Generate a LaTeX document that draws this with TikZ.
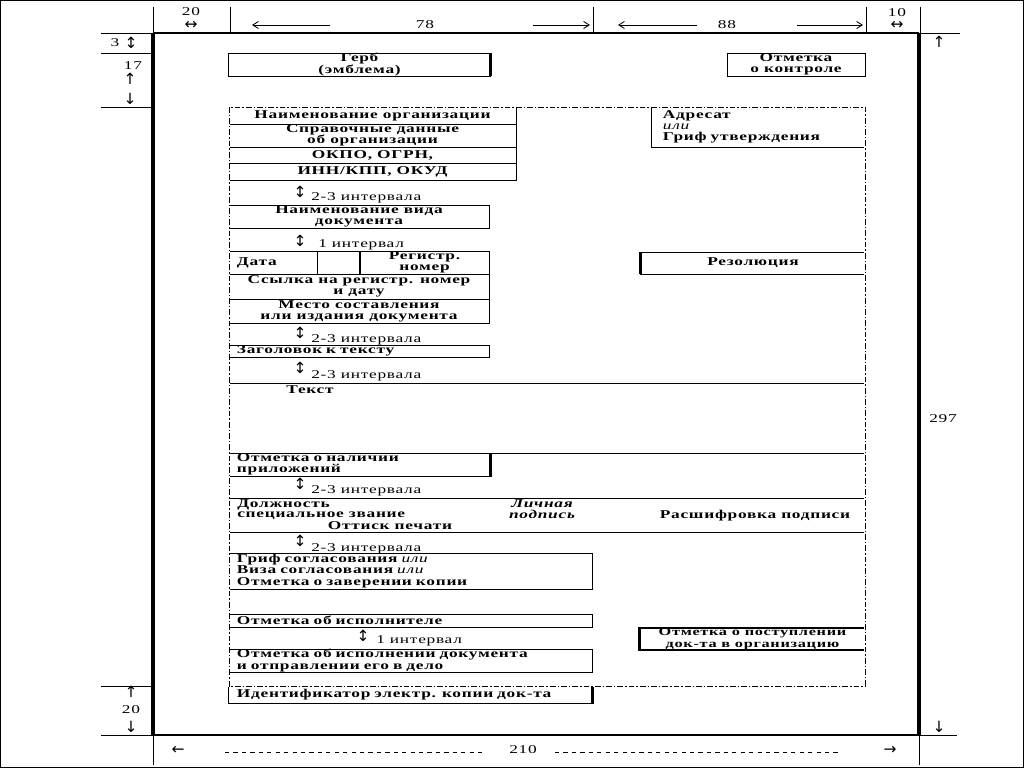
\documentclass[tikz,border=0pt]{standalone}
\usepackage{fontspec}
\setmainfont{Liberation Serif}[FakeStretch=1.45, LetterSpace=6]
\newfontfamily\symfont{DejaVu Sans}
\usepackage{tikz}
\usetikzlibrary{arrows.meta}

\begin{document}
\begin{tikzpicture}[
    x=0.025cm, y=-0.025cm,
    cell/.style={
        rectangle,
        draw=black,
        line width=0.7pt,
        inner sep=0pt,
        align=center,
        font=\bfseries\fontsize{8.5}{8}\selectfont
    },
    lcell/.style={
        cell,
        align=left,
        inner xsep=0.2cm,
        text width=#1
    },
    gaptext/.style={anchor=west, inner sep=0pt, font=\fontsize{8.5}{8}\selectfont},
    symtext/.style={inner sep=0pt, font=\symfont\fontsize{11}{11}\selectfont},
    dimtext/.style={inner sep=0pt, font=\fontsize{8.5}{9}\selectfont},
    plain/.style={inner sep=0pt, font=\bfseries\fontsize{8.5}{8}\selectfont},
    thickside/.style={line width=1.6pt},
    pageline/.style={line width=2.6pt},
    hair/.style={line width=0.5pt},
    dashframe/.style={line width=0.7pt, dash pattern=on 4pt off 1.5pt on 1pt off 1.5pt},
    arrow/.style={-{Straight Barb[length=4pt,width=5pt]}, line width=0.6pt}
]
\useasboundingbox (0,0) rectangle (1024,768);

% Outer border and sheet
\draw[line width=0.8pt] (0.5,0.5) rectangle (1023.5,767.5);
\draw[pageline] (153,33) -- (153,735);
\draw[pageline] (919,33) -- (919,735);
\draw[line width=1.4pt] (153,33) -- (919,33);
\draw[line width=1.4pt] (153,735) -- (919,735);

% Dimension lines
\draw[hair] (101,33) -- (153,33) (101,53) -- (153,53) (101,107) -- (153,107)
            (101,686) -- (153,686) (101,735) -- (153,735)
            (919,33) -- (960,33) (919,735) -- (957,735)
            (153,735) -- (153,765) (919,735) -- (919,765);
\foreach \x in {153,230,593,866,920}
    \draw[hair] (\x,7) -- (\x,33);

% Top dimensions
\node[dimtext] (w20)  at (191,12) {20};
\node[symtext] (w20a) at (191,25) {↔};
\node[dimtext] (w78)  at (425,25) {78};
\node[dimtext] (w88)  at (727,25) {88};
\node[dimtext] (w10)  at (897,13) {10};
\node[symtext] (w10a) at (897,25) {↔};
\coordinate (a78l) at (330,25);
\coordinate (e78l) at (252,25);
\coordinate (a78r) at (533,25);
\coordinate (e78r) at (590,25);
\coordinate (a88l) at (697,25);
\coordinate (e88l) at (618,25);
\coordinate (a88r) at (797,25);
\coordinate (e88r) at (863,25);
\draw[arrow] (a78l) -- (e78l);
\draw[arrow] (a78r) -- (e78r);
\draw[arrow] (a88l) -- (e88l);
\draw[arrow] (a88r) -- (e88r);

% Left and right dimensions
\node[dimtext] (h3)   at (115,43)  {3};
\node[symtext] (h3a)  at (131,43)  {↕};
\node[dimtext] (h17)  at (133,66)  {17};
\node[symtext] (h17u) at (130,79)  {↑};
\node[symtext] (h17d) at (130,99)  {↓};
\node[symtext] (h20u) at (131,692) {↑};
\node[dimtext] (h20)  at (131,710) {20};
\node[symtext] (h20d) at (131,727) {↓};
\node[symtext] (hru)  at (939,42)  {↑};
\node[dimtext] (h297) at (943,419) {297};
\node[symtext] (hrd)  at (939,727) {↓};

% Bottom dimension
\node[symtext] (w210l) at (178,750) {←};
\node[dimtext] (w210)  at (523,750) {210};
\node[symtext] (w210r) at (890,750) {→};
\coordinate (d1) at (225,752);
\coordinate (d2) at (484,752);
\coordinate (d3) at (555,752);
\coordinate (d4) at (838,752);
\draw[hair, dashed] (d1) -- (d2);
\draw[hair, dashed] (d3) -- (d4);

% Top boxes
\node[cell, minimum width=6.525cm, minimum height=0.575cm] (gerb) at (359.5,64.5) {Герб\\(эмблема)};
\node[cell, minimum width=3.45cm, minimum height=0.575cm] (control) at (796,64.5) {Отметка\\о контроле};
\draw[thickside] (gerb.north east) -- (gerb.south east);

% Left column
\node[cell, minimum width=7.175cm, minimum height=0.425cm] (org)  at (372.5,115.5) {Наименование организации};
\node[cell, minimum width=7.175cm, minimum height=0.575cm] (info) at (372.5,135.5) {Справочные данные\\об организации};
\node[cell, minimum width=7.175cm, minimum height=0.4cm]   (okpo) at (372.5,155)   {ОКПО, ОГРН,};
\node[cell, minimum width=7.175cm, minimum height=0.425cm] (inn)  at (372.5,171.5) {ИНН/КПП, ОКУД};

\node[symtext] (g1a) at (300,192) {↕};
\node[gaptext] (g1)  at (311,198) {2-3 интервала};

\node[cell, minimum width=6.5cm, minimum height=0.575cm] (kind) at (359,216.5) {Наименование вида\\документа};

\node[symtext] (g2a) at (300,241) {↕};
\node[gaptext] (g2)  at (318,245) {1 интервал};

\node[lcell=1.8cm, minimum height=0.575cm] (date)  at (273,262.5) {Дата};
\node[cell, minimum width=1.075cm, minimum height=0.575cm] (blank) at (338.5,262.5) {};
\node[cell, minimum width=3.225cm, minimum height=0.575cm] (regno) at (424.5,262.5) {Регистр.\\номер};

\node[cell, minimum width=6.5cm, minimum height=0.625cm] (link)  at (359,286.5) {Ссылка на регистр. номер\\и дату};
\node[cell, minimum width=6.5cm, minimum height=0.6cm]   (place) at (359,311)   {Место составления\\или издания документа};

\node[symtext] (g3a) at (300,333) {↕};
\node[gaptext] (g3)  at (311,340) {2-3 интервала};

\node[lcell=6.1cm, minimum height=0.3cm] (title) at (359,351) {Заголовок к тексту};

\node[symtext] (g4a) at (300,368) {↕};
\node[gaptext] (g4)  at (311,376) {2-3 интервала};

% Text area
\draw[line width=0.7pt] (229,383) -- (865,383);
\draw[line width=0.7pt] (229,453) -- (865,453);
\node[plain] (text) at (310,390) {Текст};

\node[lcell=6.125cm, minimum height=0.575cm] (appx) at (359.5,464.5) {Отметка о наличии\\приложений};
\draw[thickside] (appx.north east) -- (appx.south east);

\node[symtext] (g5a) at (300,484) {↕};
\node[gaptext] (g5)  at (311,491) {2-3 интервала};

% Signature
\draw[line width=0.7pt] (229,498) -- (865,498);
\draw[line width=0.7pt] (229,532) -- (865,532);
\node[plain, anchor=west] (post)  at (237,505) {Должность};
\node[plain, anchor=west] (rank)  at (237,516) {специальное звание};
\node[plain] (seal) at (390,526) {Оттиск печати};
\node[plain, font=\bfseries\itshape\fontsize{8.5}{8}\selectfont, align=center] (sign) at (542,509) {Личная\\подпись};
\node[plain] (decode) at (755,516) {Расшифровка подписи};

\node[symtext] (g6a) at (300,541) {↕};
\node[gaptext] (g6)  at (311,549) {2-3 интервала};

\node[lcell=8.675cm, minimum height=0.9cm] (visa) at (410.5,571)
    {Гриф согласования {\mdseries\itshape или}\\Виза согласования {\mdseries\itshape или}\\Отметка о заверении копии};

\node[lcell=8.675cm, minimum height=0.325cm] (exec) at (410.5,620.5) {Отметка об исполнителе};

\node[symtext] (g7a) at (363,636) {↕};
\node[gaptext] (g7)  at (376,641) {1 интервал};

\node[lcell=8.675cm, minimum height=0.575cm] (done) at (410.5,660.5) {Отметка об исполнении документа\\и отправлении его в дело};

\node[lcell=8.675cm, minimum height=0.425cm] (eid) at (410.5,694.5) {Идентификатор электр. копии док-та};
\draw[thickside] (eid.north east) -- (eid.south east);

% Right column
\node[cell, align=left, inner xsep=0.275cm, text width=4.775cm, minimum height=1.0cm] (addr) at (758.5,127)
    {Адресат\\{\mdseries\itshape или}\\Гриф утверждения};
\node[cell, minimum width=5.6cm, minimum height=0.55cm] (resol) at (753,263) {Резолюция};
\draw[thickside] (resol.north west) -- (resol.south west);
\node[cell, line width=1pt, minimum width=5.625cm, minimum height=0.55cm,
      font=\bfseries\fontsize{8}{8}\selectfont] (recv) at (752.5,639) {Отметка о поступлении\\док-та в организацию};
\draw[thickside] (recv.north west) -- (recv.south west);

% Dash-dot frame of the required fields
\draw[white, line width=1.4pt] (229,107) rectangle (865,686);
\draw[dashframe] (229,107) rectangle (865,686);

\end{tikzpicture}
\end{document}
